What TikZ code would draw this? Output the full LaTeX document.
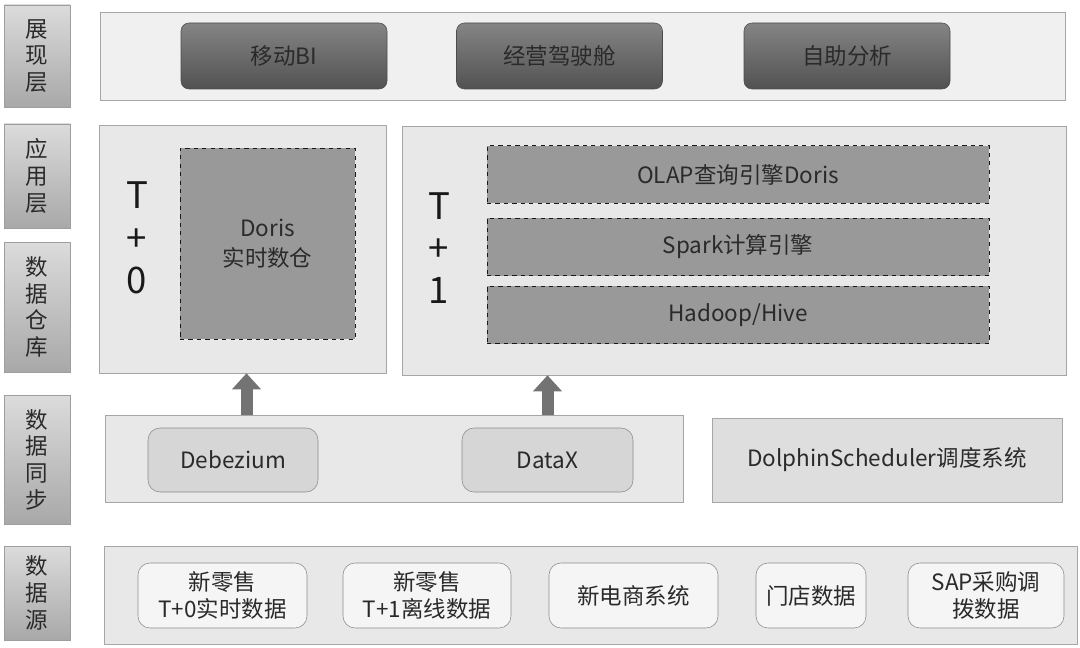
\documentclass[tikz,border=0pt]{standalone}
\usepackage{fontspec}
\setmainfont{Noto Sans CJK SC}
\usetikzlibrary{arrows.meta}
\definecolor{txt}{HTML}{2A2A2A}
\begin{document}
\begin{tikzpicture}[
    lab/.style={draw=black!38, top color=black!14, bottom color=black!34, minimum width=1.65cm, text=txt, align=center, font=\fontsize{16}{19}\selectfont},
    panel/.style={draw=black!35, fill=black!9},
    btn/.style={draw=black!70, rounded corners=0.2cm, top color=black!48, bottom color=black!68, minimum width=5.15cm, minimum height=1.65cm, text=txt, font=\fontsize{16}{19}\selectfont},
    dbox/.style={draw=black!90, dashed, line width=0.6pt, fill=black!40, text=txt, align=center, font=\fontsize{16}{21}\selectfont},
    soft/.style={draw=black!45, rounded corners=0.3cm, fill=black!16, minimum height=1.6cm, text=txt, font=\fontsize{16}{19}\selectfont},
    src/.style={draw=black!45, rounded corners=0.3cm, fill=black!4, minimum height=1.625cm, text=txt, align=center, font=\fontsize{16}{19}\selectfont},
    big/.style={text=black!90, align=center, font=\fontsize{26}{30}\selectfont},
    uparrow/.style={draw=black!55, line width=0.3cm, -{Triangle[width=0.7cm,length=0.4cm]}}
  ]
  \useasboundingbox (0,0) rectangle (27,-16.2);
  \foreach \n/\y/\h/\t in {1/-1.4/2.55/展\\现\\层, 2/-4.4/2.6/应\\用\\层, 3/-7.675/3.25/数\\据\\仓\\库, 4/-11.4875/3.225/数\\据\\同\\步, 5/-14.825/2.35/数\\据\\源}{
    \node(L\n)[lab, minimum height=\h cm] at (0.925,\y) {\t};
  }
  \node(P1)[panel, fill=black!6, minimum width=24.125cm, minimum height=2.2cm] at (14.5625,-1.4) {};
  \foreach \n/\x/\t in {1/7.1/移动BI, 2/13.9875/经营驾驶舱, 3/21.175/自助分析}{
    \node(B\n)[btn] at (\x,-1.4) {\t};
  }
  \node(T0)[panel, minimum width=7.175cm, minimum height=6.2cm] at (6.0625,-6.225) {};
  \node(D0)[dbox, minimum width=4.375cm, minimum height=4.775cm] at (6.6875,-6.0875) {Doris\\实时数仓};
  \node(T0t)[big] at (3.425,-5.95) {T\\+\\0};
  \node(T1)[panel, minimum width=16.6cm, minimum height=6.225cm] at (18.35,-6.2625) {};
  \foreach \n/\y/\t in {1/-4.3625/OLAP查询引擎Doris, 2/-6.175/Spark计算引擎, 3/-7.875/{Hadoop/Hive}}{
    \node(D\n)[dbox, minimum width=12.55cm, minimum height=1.44cm] at (18.45,\y) {\t};
  }
  \node(T1t)[big] at (10.975,-6.2) {T\\+\\1};
  \node(Y)[panel, minimum width=14.45cm, minimum height=2.175cm] at (9.85,-11.4625) {};
  \node(Y1)[soft, minimum width=4.25cm] at (5.825,-11.5) {Debezium};
  \node(Y2)[soft, minimum width=4.275cm] at (13.6875,-11.5) {DataX};
  \node(DS)[panel, fill=black!13, minimum width=8.75cm, minimum height=2.1cm, text=txt, font=\fontsize{16}{19}\selectfont] at (22.175,-11.5) {DolphinScheduler调度系统};
  \draw[uparrow]([xshift=0.1cm]T0.south |- Y.north)--([xshift=0.1cm]T0.south);
  \draw[uparrow](Y2.north |- Y.north)--(Y2.north |- T1.south);
  \node(S)[panel, minimum width=24.325cm, minimum height=2.45cm] at (14.7625,-14.875) {};
  \foreach \n/\x/\w/\t in {1/5.5625/4.225/{新零售\\T+0实时数据}, 2/10.675/4.2/{新零售\\T+1离线数据}, 3/15.8375/4.225/新电商系统, 4/20.275/2.75/门店数据, 5/24.65/3.9/{SAP采购调\\拨数据}}{
    \node(S\n)[src, minimum width=\w cm] at (\x,-14.8875) {\t};
  }
\end{tikzpicture}
\end{document}
